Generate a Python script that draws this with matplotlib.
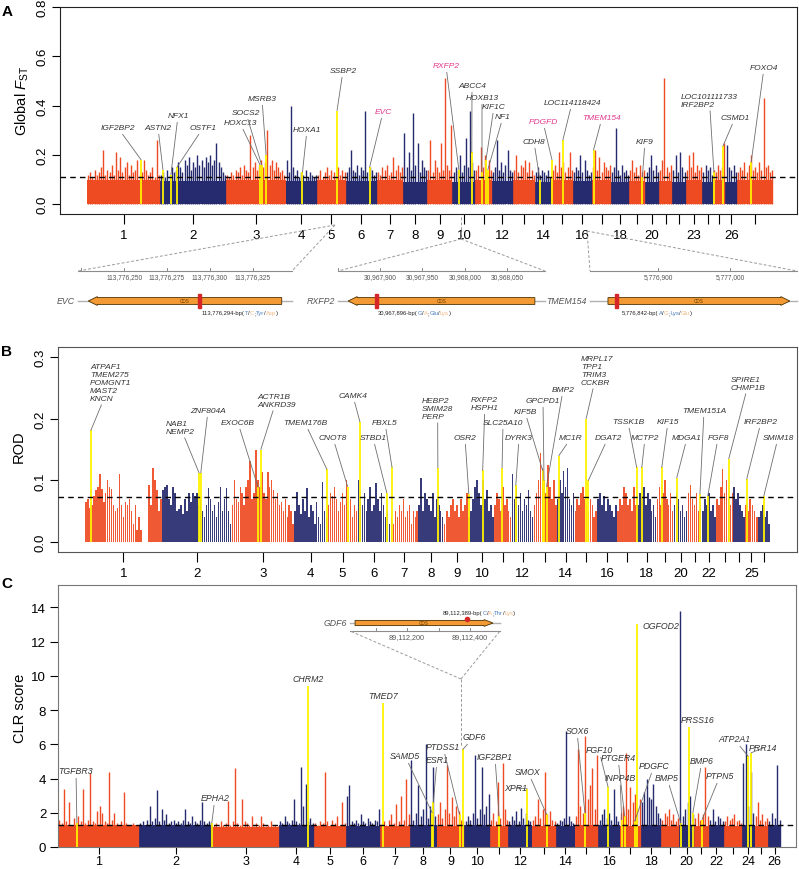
import numpy as np
import matplotlib
matplotlib.use("Agg")
import matplotlib.pyplot as plt
from matplotlib.patches import Polygon, Rectangle

plt.rcParams['font.family'] = ['Liberation Sans', 'DejaVu Sans']
plt.rcParams['mathtext.fontset'] = 'custom'
plt.rcParams['mathtext.rm'] = 'Liberation Sans'
plt.rcParams['mathtext.it'] = 'Liberation Sans:italic'

W, H = 799, 870
ORANGE = '#EE4B23'
NAVY = '#262A6E'
YELLOW = '#FFF200'
LABEL = '#333333'
PINK = '#E0388E'

# ---- chromosomes (Mb) ----
CHROMS = [str(i) for i in range(1, 27)] + ['X']
CHROM_LEN = [275.4, 249.0, 224.3, 119.3, 108.0, 117.0, 100.0, 90.7, 94.7, 86.4,
             62.2, 79.0, 83.0, 62.7, 80.9, 72.0, 72.3, 68.6, 60.5, 51.2,
             50.1, 51.0, 62.2, 42.0, 45.4, 44.0, 135.4]
LABELED_A = [1, 2, 3, 4, 5, 6, 7, 8, 9, 10, 12, 14, 16, 18, 20, 23, 26]
LABELED_B = [1, 2, 3, 4, 5, 6, 7, 8, 9, 10, 12, 14, 16, 18, 20, 22, 25]
LABELED_C = [1, 2, 3, 4, 5, 6, 7, 8, 9, 10, 12, 14, 16, 18, 20, 22, 24, 26]

# ---- panel A: global FST ----
FST_THRESHOLD = 0.112
FST_BASE = [0.10, 0.095, 0.10, 0.095, 0.10, 0.095, 0.10, 0.09, 0.10, 0.09,
            0.10, 0.095, 0.10, 0.09, 0.10, 0.095, 0.10, 0.09, 0.095, 0.09,
            0.095, 0.09, 0.10, 0.09, 0.10, 0.09, 0.10]
FST_SPIKES = [
    [0.12, 0.13, 0.11, 0.14, 0.12, 0.13, 0.15, 0.22, 0.12, 0.14, 0.13, 0.16, 0.12, 0.21, 0.14, 0.19, 0.13,
     0.15, 0.17, 0.12, 0.16, 0.13, 0.14, 0.18, 0.12, 0.13, 0.18, 0.14, 0.12, 0.13, 0.15, 0.11, 0.26, 0.12],
    [0.12, 0.13, 0.11, 0.14, 0.12, 0.15, 0.13, 0.14, 0.17, 0.15, 0.13, 0.18, 0.16, 0.19, 0.14, 0.17,
     0.15, 0.20, 0.16, 0.18, 0.15, 0.19, 0.17, 0.20, 0.16, 0.18, 0.25, 0.17, 0.15, 0.13, 0.12],
    [0.12, 0.11, 0.13, 0.12, 0.14, 0.13, 0.15, 0.12, 0.16, 0.14, 0.13, 0.28, 0.15, 0.17,
     0.14, 0.16, 0.18, 0.15, 0.17, 0.30, 0.16, 0.18, 0.14, 0.17, 0.15, 0.13, 0.14, 0.12],
    [0.18, 0.13, 0.40, 0.15, 0.12, 0.14, 0.11, 0.13, 0.12, 0.14, 0.11, 0.13, 0.12, 0.11, 0.12],
    [0.12, 0.14, 0.11, 0.13, 0.15, 0.12, 0.14, 0.13, 0.11, 0.15, 0.12, 0.14, 0.13],
    [0.13, 0.15, 0.22, 0.14, 0.13, 0.16, 0.12, 0.15, 0.14, 0.38, 0.13, 0.15, 0.14, 0.12, 0.13],
    [0.13, 0.12, 0.15, 0.14, 0.16, 0.12, 0.13, 0.19, 0.14, 0.16, 0.13, 0.15],
    [0.29, 0.15, 0.21, 0.14, 0.37, 0.16, 0.25, 0.13, 0.18, 0.15, 0.14],
    [0.14, 0.26, 0.13, 0.18, 0.15, 0.13, 0.25, 0.14, 0.51, 0.16, 0.14, 0.32],
    [0.13, 0.15, 0.14, 0.20, 0.13, 0.16, 0.27, 0.15, 0.38, 0.17, 0.14],
    [0.14, 0.16, 0.23, 0.15, 0.20, 0.13, 0.18, 0.14],
    [0.13, 0.15, 0.26, 0.14, 0.17, 0.13, 0.16, 0.22, 0.14, 0.13],
    [0.14, 0.20, 0.13, 0.16, 0.15, 0.18, 0.13, 0.17, 0.14, 0.12],
    [0.13, 0.15, 0.12, 0.14, 0.13, 0.12, 0.14, 0.11],
    [0.14, 0.16, 0.13, 0.21, 0.15, 0.17, 0.13, 0.15, 0.21, 0.14],
    [0.13, 0.15, 0.14, 0.20, 0.13, 0.18, 0.14, 0.12, 0.13],
    [0.15, 0.22, 0.14, 0.19, 0.13, 0.17, 0.15, 0.14, 0.16],
    [0.13, 0.15, 0.31, 0.14, 0.12, 0.16, 0.13, 0.14, 0.12],
    [0.14, 0.18, 0.13, 0.15, 0.12, 0.16, 0.13, 0.14],
    [0.13, 0.15, 0.20, 0.14, 0.16, 0.13],
    [0.14, 0.18, 0.51, 0.15, 0.13, 0.16],
    [0.14, 0.20, 0.13, 0.21, 0.15, 0.13],
    [0.14, 0.20, 0.15, 0.21, 0.13, 0.16, 0.14, 0.15],
    [0.13, 0.16, 0.14, 0.15, 0.12],
    [0.14, 0.13, 0.16, 0.14, 0.15, 0.25],
    [0.24, 0.15, 0.14, 0.16, 0.13],
    [0.13, 0.15, 0.14, 0.17, 0.13, 0.16, 0.20, 0.14, 0.15, 0.13, 0.17, 0.14, 0.43, 0.15, 0.16, 0.13, 0.14],
]
# (label, chromosome, position in Mb, value)
FST_GENES = [
    ("IGF2BP2", 1, 204, 0.18), ("ASTN2", 2, 11, 0.14), ("NFX1", 2, 41, 0.12),
    ("OSTF1", 2, 64, 0.15), ("HOXC13", 3, 128, 0.16), ("SOCS2", 3, 134, 0.16),
    ("MSRB3", 3, 151, 0.20), ("HOXA1", 4, 64, 0.13), ("SSBP2", 5, 75, 0.38),
    ("EVC", 6, 90, 0.15), ("RXFP2", 10, 24, 0.14), ("ABCC4", 10, 73, 0.21),
    ("HOXB13", 11, 25, 0.13), ("KIF1C", 11, 40, 0.18), ("NF1", 11, 47, 0.14),
    ("CDH8", 14, 19, 0.10), ("PDGFD", 15, 2, 0.18), ("LOC114118424", 15, 43, 0.26),
    ("TMEM154", 17, 5.8, 0.22), ("KIF9", 19, 49, 0.11),
    ("LOC101111733\nIRF2BP2", 25, 2, 0.13), ("CSMD1", 25, 36, 0.235), ("FOXO4", 27, 53, 0.17),
]
FST_PINK = ["EVC", "RXFP2", "PDGFD", "TMEM154"]

# ---- panel B: ROD ----
ROD_THRESHOLD = 0.0727
ROD_VALUES = [
    [0.065, 0.07, 0.055, 0.06, 0.075, 0.085, 0.09, 0.11, 0.086, 0.065, 0.08, 0.10, 0.09, 0.086, 0.06,
     0.05, 0.055, 0.11, 0.06, 0.04, 0.065, 0.06, 0.07, 0.05, 0.03, 0.06, 0.02, 0.04, 0.02, 0, 0, 0,
     0.093, 0.06, 0.12, 0.10, 0.085, 0.05, 0.07],
    [0.085, 0.09, 0.093, 0.07, 0.06, 0.09, 0.08, 0.05, 0.054, 0.06, 0.045, 0.07, 0.05, 0.08, 0.065,
     0.08, 0.075, 0.08, 0.06, 0.07, 0.05, 0.04, 0.06, 0.087, 0.07, 0.05, 0.06, 0.04, 0.065, 0.09,
     0.05, 0.07, 0.087, 0.05, 0.03],
    [0.06, 0.10, 0.07, 0.065, 0.09, 0.08, 0.06, 0.09, 0.10, 0.132, 0.07, 0.08, 0.15, 0.10, 0.09, 0.114,
     0.08, 0.07, 0.114, 0.09, 0.10, 0.085, 0.07, 0.08, 0.06, 0.065, 0.05, 0.07, 0.04, 0.06, 0.05, 0.03],
    [0.05, 0.081, 0.06, 0.045, 0.07, 0.05, 0.087, 0.04, 0.06, 0.05, 0.03, 0.065, 0.04, 0.03, 0.097, 0.05, 0.04],
    [0.06, 0.08, 0.075, 0.09, 0.07, 0.05, 0.065, 0.08, 0.06, 0.10, 0.05, 0.07, 0.04, 0.06, 0.05],
    [0.10, 0.07, 0.06, 0.08, 0.05, 0.07, 0.09, 0.05, 0.06, 0.095, 0.07, 0.05, 0.08, 0.06, 0.04, 0.05, 0.03],
    [0.04, 0.03, 0.05, 0.04, 0.06, 0.05, 0.07, 0.04, 0.05, 0.06, 0.03, 0.05, 0.04, 0.05],
    [0.06, 0.104, 0.05, 0.08, 0.07, 0.06, 0.05, 0.08, 0.04, 0.07, 0.06, 0.05, 0.04],
    [0.03, 0.05, 0.04, 0.06, 0.07, 0.05, 0.06, 0.04, 0.07, 0.05, 0.06, 0.08, 0.04],
    [0.05, 0.07, 0.09, 0.10, 0.08, 0.06, 0.10, 0.07, 0.085, 0.05, 0.06, 0.04],
    [0.06, 0.08, 0.07, 0.05, 0.09, 0.06, 0.07, 0.05, 0.04],
    [0.11, 0.07, 0.09, 0.06, 0.08, 0.05, 0.07, 0.06, 0.085, 0.05, 0.04],
    [0.06, 0.08, 0.10, 0.145, 0.12, 0.10, 0.08, 0.125, 0.09, 0.07, 0.10, 0.06],
    [0.07, 0.10, 0.08, 0.115, 0.09, 0.12, 0.07, 0.06, 0.08],
    [0.05, 0.07, 0.06, 0.08, 0.09, 0.07, 0.06, 0.05, 0.07, 0.06, 0.04, 0.05],
    [0.07, 0.08, 0.06, 0.075, 0.05, 0.07, 0.06, 0.05, 0.04, 0.06],
    [0.05, 0.07, 0.06, 0.09, 0.08, 0.06, 0.07, 0.05, 0.09, 0.06],
    [0.06, 0.08, 0.07, 0.09, 0.06, 0.08, 0.07, 0.05, 0.06, 0.04],
    [0.07, 0.09, 0.06, 0.08, 0.10, 0.07, 0.06, 0.08, 0.05],
    [0.06, 0.08, 0.07, 0.05, 0.06, 0.04, 0.05],
    [0.08, 0.092, 0.07, 0.06, 0.08, 0.05, 0.06],
    [0.05, 0.07, 0.06, 0.08, 0.05, 0.06, 0.04],
    [0.07, 0.06, 0.09, 0.118, 0.08, 0.10, 0.07, 0.06, 0.08],
    [0.09, 0.07, 0.08, 0.06, 0.05, 0.04],
    [0.06, 0.05, 0.07, 0.06, 0.05, 0.04],
    [0.04, 0.05, 0.06, 0.04, 0.05, 0.03],
]
ROD_GENES = [
    ("ATPAF1\nTMEM275\nPOMGNT1\nMAST2\nKNCN", 1, 21, 0.181), ("NAB1\nNEMP2", 2, 133, 0.112),
    ("ZNF804A", 2, 139, 0.112), ("EXOC6B", 3, 95, 0.089), ("ACTR1B\nANKRD39", 3, 105, 0.15),
    ("TMEM176B", 4, 117, 0.118), ("CNOT8", 5, 72, 0.09), ("CAMK4", 6, 8, 0.195),
    ("STBD1", 6, 104, 0.08), ("FBXL5", 7, 6, 0.121), ("HEBP2\nSMIM28\nPERP", 8, 70, 0.12),
    ("OSR2", 9, 90, 0.078), ("RXFP2\nHSPH1", 10, 45, 0.116), ("SLC25A10", 11, 28, 0.12),
    ("DYRK3", 12, 15, 0.092), ("KIF5B", 13, 32, 0.116), ("GPCPD1", 13, 37, 0.10),
    ("BMP2", 13, 46, 0.09), ("MC1R", 14, 7, 0.14), ("MRPL17\nTPP1\nTRIM3\nCCKBR", 15, 42, 0.20),
    ("DGAT2", 15, 50, 0.10), ("TSSK1B", 17, 70, 0.121), ("MCTP2", 18, 16, 0.121),
    ("KIF15", 19, 19, 0.121), ("MDGA1", 20, 12, 0.104), ("TMEM151A", 21, 44, 0.078),
    ("FGF8", 22, 22, 0.075), ("SPIRE1\nCHMP1B", 23, 46, 0.135), ("IRF2BP2", 25, 6, 0.102),
    ("SMIM18", 26, 22, 0.075),
]

# ---- panel C: CLR ----
CLR_THRESHOLD = 1.28
CLR_BASE = [1.3, 1.3, 1.15, 1.3, 1.2, 1.25, 1.2, 1.3, 1.2, 1.3, 1.2, 1.3, 1.2,
            1.2, 1.3, 1.3, 1.25, 1.3, 1.2, 1.3, 1.25, 1.3, 1.25, 1.3, 1.2, 1.3]
CLR_SPIKES = [
    [1.6, 1.4, 3.4, 1.5, 2.6, 1.3, 1.7, 1.4, 1.8, 1.5, 3.4, 1.4, 1.6, 4.3, 1.5, 1.4, 2.1, 2.4, 2.0,
     1.5, 1.4, 4.4, 1.6, 2.0, 1.4, 1.3, 1.5, 3.2, 1.4, 1.2, 1.3, 1.4, 1.2, 1.3],
    [1.4, 1.5, 1.3, 1.6, 2.4, 1.5, 1.7, 3.3, 1.5, 2.2, 1.6, 1.9, 1.4, 1.5, 1.6, 1.4, 1.5, 1.4, 1.6,
     2.2, 1.5, 1.4, 1.8, 1.5, 1.4, 1.6, 2.6, 1.5, 1.4, 1.5, 1.4],
    [1.3, 1.4, 1.2, 1.5, 1.3, 1.4, 2.7, 1.3, 1.5, 4.6, 1.4, 1.3, 2.8, 1.5, 1.4, 1.3, 1.8, 1.2, 1.4,
     1.3, 1.8, 1.4, 1.2, 1.3, 1.5, 1.2, 1.3, 1.2],
    [1.5, 1.4, 1.8, 1.5, 1.4, 1.6, 2.8, 1.5, 1.4, 4.7, 2.4, 3.7, 1.5, 1.7, 1.4],
    [1.4, 1.3, 1.5, 1.4, 4.4, 1.5, 1.3, 1.6, 1.4, 1.8, 1.3, 2.6, 1.4],
    [3.0, 3.6, 1.5, 1.4, 1.6, 1.4, 1.9, 1.5, 1.4, 1.7, 1.5, 1.4, 1.6, 1.5, 2.2],
    [1.4, 1.5, 1.3, 1.6, 1.9, 1.4, 2.5, 1.5, 3.0, 1.6, 4.0, 1.9],
    [5.1, 1.6, 2.0, 3.6, 1.8, 2.2, 6.0, 1.7, 2.4, 4.7, 1.8],
    [1.9, 2.6, 1.7, 2.2, 4.8, 2.0, 2.9, 1.8, 2.4, 2.1, 1.6, 1.5],
    [1.5, 1.8, 1.6, 2.0, 5.4, 1.7, 2.2, 4.7, 1.9, 2.4, 3.1],
    [1.6, 2.0, 1.5, 3.8, 1.7, 4.9, 2.2, 1.6],
    [1.5, 1.8, 1.6, 2.1, 1.5, 2.3, 1.7, 2.0, 1.6, 1.5],
    [1.6, 1.8, 2.8, 1.7, 2.2, 4.4, 1.9, 2.1, 1.6, 1.5],
    [1.4, 1.6, 1.5, 1.7, 6.8, 1.8, 1.5, 1.4],
    [1.8, 5.7, 2.4, 2.0, 6.5, 2.8, 3.6, 4.6, 2.2, 5.4],
    [1.6, 1.9, 2.2, 1.7, 2.0, 1.6, 3.4, 1.8, 1.5],
    [2.0, 2.4, 5.5, 2.2, 3.5, 2.6, 3.1, 2.3, 2.8],
    [2.6, 3.2, 4.0, 2.9, 2.8, 3.7, 2.4, 2.0, 1.7],
    [1.6, 2.0, 1.8, 2.2, 1.6, 1.9, 1.5, 1.7],
    [13.8, 1.8, 2.2, 2.6, 3.0, 1.9],
    [1.7, 2.0, 1.6, 1.9, 4.7, 1.8],
    [1.6, 2.2, 1.5, 1.8, 1.7, 1.5],
    [1.5, 1.8, 1.6, 1.7, 1.9, 1.5, 1.6, 1.4],
    [4.9, 6.0, 2.4, 4.4, 2.0],
    [1.8, 2.6, 1.6, 1.9, 1.5, 1.7],
    [1.5, 2.0, 1.7, 4.8, 1.6],
]
CLR_GENES = [
    ("TGFBR3", 1, 64, 1.4), ("EPHA2", 2, 246, 1.4), ("CHRM2", 4, 99, 9.4),
    ("TMED7", 7, 9, 8.4), ("SAMD5", 8, 76, 2.0), ("ESR1", 8, 80, 2.6),
    ("PTDSS1", 9, 78, 1.9), ("GDF6", 9, 89.1, 5.7), ("IGF2BP1", 11, 31, 1.8),
    ("XPR1", 12, 64, 3.4), ("SMOX", 13, 51, 1.9), ("SOX6", 15, 35, 2.0),
    ("FGF10", 16, 33, 3.5), ("PTGER4", 17, 17, 1.8), ("INPP4B", 17, 7, 1.6),
    ("PDGFC", 17, 51, 1.5), ("OGFOD2", 17, 58, 13.0), ("BMP5", 20, 6, 1.4),
    ("PRSS16", 20, 34, 7.0), ("BMP6", 20, 47, 2.0), ("PTPN5", 21, 27, 1.6),
    ("ATP2A1", 24, 20, 5.3), ("PRR14", 24, 30, 5.5),
]
CLR_NO_LEADER = ["CHRM2", "TMED7", "OGFOD2", "PRSS16"]

# ---- gene models (bp) ----
MODEL_NAMES = ["EVC", "RXFP2", "TMEM154", "GDF6"]
MODEL_AXIS_BP = [(113776223, 113776348), (30967850, 30968095), (5776805, 5777093), (89112019, 89112495)]
MODEL_TICKS = [[113776225, 113776250, 113776275, 113776300, 113776325],
               [30967850, 30967900, 30967950, 30968000, 30968050],
               [5776900, 5777000],
               [89112100, 89112200, 89112300, 89112400]]
MODEL_TICK_LABELED = [[113776250, 113776275, 113776300, 113776325],
                      [30967900, 30967950, 30968000, 30968050],
                      [5776900, 5777000],
                      [89112200, 89112400]]
MODEL_CDS = [(113776229, 113776342), (30967862, 30968083), (5776830, 5777083), (89112035, 89112473)]
MODEL_STRAND = [-1, -1, 1, 1]
MODEL_SNP = [113776294, 30967896, 5776842, 89112389]
MODEL_ALLELES = [("T", "C", "Tyr", "Asp"), ("G", "A", "Glu", "Lys"),
                 ("A", "G", "Lys", "Glu"), ("C", "A", "Thr", "Lys")]

# ---- layout (figure pixels, origin top-left) ----
FST_LABEL_POS = {
    "IGF2BP2": (118, 129), "ASTN2": (158, 129), "NFX1": (178, 117), "OSTF1": (203, 129),
    "HOXC13": (240, 124), "SOCS2": (246, 114), "MSRB3": (262, 100), "HOXA1": (307, 131),
    "SSBP2": (343, 72), "EVC": (383, 113), "RXFP2": (446, 67), "ABCC4": (472, 87),
    "HOXB13": (482, 99), "KIF1C": (494, 108), "NF1": (503, 118), "CDH8": (534, 143),
    "PDGFD": (543, 123), "LOC114118424": (572, 104), "TMEM154": (602, 119), "KIF9": (645, 143),
    "LOC101111733": (681, 101.5, 'left'), "CSMD1": (735, 119), "FOXO4": (764, 69),
}
ROD_LABEL_POS = {
    "ATPAF1": (90, 383.5, 'left'), "NAB1": (166, 428.5, 'left'), "ZNF804A": (208, 412),
    "EXOC6B": (238, 424), "ACTR1B": (257, 401.5, 'left'), "TMEM176B": (305, 424),
    "CNOT8": (333, 439), "CAMK4": (353, 397), "STBD1": (373, 439), "FBXL5": (385, 424),
    "HEBP2": (422, 409.5, 'left'), "OSR2": (465, 439), "RXFP2": (471, 405, 'left'),
    "SLC25A10": (503, 424), "DYRK3": (519, 439), "KIF5B": (525, 413), "GPCPD1": (543, 402),
    "BMP2": (563, 391), "MC1R": (571, 439), "MRPL17": (581, 371.5, 'left'), "DGAT2": (608, 439),
    "TSSK1B": (628, 423), "MCTP2": (645, 439), "KIF15": (668, 423), "MDGA1": (687, 439),
    "TMEM151A": (704, 412), "FGF8": (718, 439), "SPIRE1": (731, 384.5, 'left'),
    "IRF2BP2": (761, 423), "SMIM18": (778, 439),
}
CLR_LABEL_POS = {
    "TGFBR3": (76, 772), "EPHA2": (215, 799), "CHRM2": (308, 680), "TMED7": (383, 697),
    "SAMD5": (405, 757), "ESR1": (437, 761), "PTDSS1": (443, 748), "GDF6": (474, 738),
    "IGF2BP1": (495, 758), "XPR1": (516, 789), "SMOX": (528, 773), "SOX6": (577, 732),
    "FGF10": (599, 751), "PTGER4": (618, 759), "INPP4B": (620, 779), "PDGFC": (654, 767),
    "OGFOD2": (643, 627, 'left'), "BMP5": (667, 779), "PRSS16": (698, 721), "BMP6": (702, 762),
    "PTPN5": (720, 777), "ATP2A1": (734, 740), "PRR14": (763, 749),
}
MODEL_LAYOUT = [
    dict(axis_px=(78, 292), axis_y=272, gene_y=302, bh=3.4, hh=4.4, text_xy=(202, 314),
         apex=(335, 226), stem_top=None, tick_fs=4.8, snp='bar'),
    dict(axis_px=(338, 545), axis_y=272, gene_y=302, bh=3.4, hh=4.4, text_xy=(378, 314),
         apex=(461, 240), stem_top=218, tick_fs=4.8, snp='bar'),
    dict(axis_px=(590, 797), axis_y=272, gene_y=302, bh=3.4, hh=4.4, text_xy=(622, 314),
         apex=(587, 232), stem_top=None, tick_fs=4.8, snp='bar'),
    dict(axis_px=(350, 500), axis_y=632, gene_y=624, bh=2.6, hh=3.4, text_xy=(443, 614),
         apex=(461, 680), stem_bottom=748, tick_fs=5.2, snp='dot'),
]


def chrom_starts(lengths):
    return np.concatenate([[0.0], np.cumsum(lengths)[:-1]])


def draw_track(ax, lengths, values, base=None, genes=(), bars=False):
    starts = chrom_starts(lengths)
    for i, (s, L, vals) in enumerate(zip(starts, lengths, values)):
        col = ORANGE if i % 2 == 0 else NAVY
        step = L / len(vals)
        pos = s + (np.arange(len(vals)) + 0.5) * step
        if bars:
            ax.bar(pos, vals, width=step * 0.8, color=col, lw=0, alpha=0.92)
        else:
            ax.vlines(pos, 0, vals, color=col, lw=1.0)
        if base is not None:
            ax.bar(s, base[i], width=L, align='edge', color=col, lw=0)
    for name, c, p, v in genes:
        ax.vlines(starts[c - 1] + p, 0, v, color=YELLOW, lw=1.3, zorder=3)


def label_genes(ax, lengths, genes, layout, size=6, pink=(), no_leader=()):
    starts = chrom_starts(lengths)
    for text, c, p, v in genes:
        key = text.split('\n')[0]
        lay = layout[key]
        ha = lay[2] if len(lay) > 2 else 'center'
        arrow = None if key in no_leader else dict(arrowstyle='-', color='#6e6e6e', lw=0.6,
                                                    shrinkA=0, shrinkB=0)
        ax.annotate(text, xy=(starts[c - 1] + p, v), xycoords='data',
                    xytext=(lay[0], H - lay[1]), textcoords='figure pixels',
                    ha=ha, va='center', fontsize=size, style='italic',
                    color=PINK if key in pink else LABEL, arrowprops=arrow,
                    annotation_clip=False, zorder=6, linespacing=1.2)


def style_axis(ax, lengths, labeled, xlim, ylim, yticks, ylabels, rotate, frame, xpad=4, xsize=9.5):
    starts = chrom_starts(lengths)
    centers = starts + np.array(lengths) / 2
    ax.set_xticks(centers)
    ax.set_xticklabels([CHROMS[i] if (i + 1) in labeled else '' for i in range(len(lengths))])
    ax.set_xlim(*xlim)
    ax.set_ylim(*ylim)
    ax.set_yticks(yticks)
    if rotate:
        ax.set_yticklabels(ylabels, rotation=90, va='center')
    else:
        ax.set_yticklabels(ylabels)
    ax.tick_params(axis='x', length=7 if xpad > 2 else 5, width=0.8, labelsize=xsize, pad=xpad)
    ax.tick_params(axis='y', length=6, width=0.8, labelsize=9.5, pad=2.5)
    for sp in ax.spines.values():
        sp.set_color(frame)
        sp.set_linewidth(0.8)


def color_text(ov, x, y, pieces, size):
    t = ov.text(x, y, pieces[0][0], color=pieces[0][1], fontsize=size, ha='left', va='center')
    for s, c in pieces[1:]:
        t = ov.annotate(s, xy=(1, 0.5), xycoords=t, ha='left', va='center', color=c, fontsize=size)


def draw_model(ov, i):
    lay = MODEL_LAYOUT[i]
    a0, a1 = MODEL_AXIS_BP[i]
    x0, x1 = lay['axis_px']

    def px(bp):
        return x0 + (bp - a0) / (a1 - a0) * (x1 - x0)

    ay, gy = lay['axis_y'], lay['gene_y']
    grey = '#8c8c8c'
    ov.plot([x0, x1], [ay, ay], color=grey, lw=0.8)
    for t in MODEL_TICKS[i]:
        ov.plot([px(t)] * 2, [ay - 3, ay], color=grey, lw=0.7)
        if t in MODEL_TICK_LABELED[i]:
            ov.text(px(t), ay + 2.5, f'{t:,}', ha='center', va='top', fontsize=lay['tick_fs'], color='#555555')
    ov.plot([x0, x1], [gy, gy], color='#b0b0b0', lw=1.0, zorder=1)
    c0, c1 = px(MODEL_CDS[i][0]), px(MODEL_CDS[i][1])
    hl, bh, hh = 9, lay['bh'], lay['hh']
    if MODEL_STRAND[i] < 0:
        pts = [(c0, gy), (c0 + hl, gy - hh), (c0 + hl, gy - bh), (c1, gy - bh),
               (c1, gy + bh), (c0 + hl, gy + bh), (c0 + hl, gy + hh)]
    else:
        pts = [(c1, gy), (c1 - hl, gy - hh), (c1 - hl, gy - bh), (c0, gy - bh),
               (c0, gy + bh), (c1 - hl, gy + bh), (c1 - hl, gy + hh)]
    ov.add_patch(Polygon(pts, closed=True, fc='#F39A34', ec='#4a3000', lw=0.6, zorder=2))
    ov.text((c0 + c1) / 2, gy, 'CDS', fontsize=3.4, color='#6b3d00', ha='center', va='center', zorder=3)
    sx = px(MODEL_SNP[i])
    if lay['snp'] == 'bar':
        ov.add_patch(Rectangle((sx - 1.5, gy - 7), 3, 14, color='#D62728', zorder=4))
    else:
        ov.plot([sx], [gy - 4.5], 'o', color='#D62728', ms=3, zorder=4)
    ov.text(x0 - 3, gy, MODEL_NAMES[i], ha='right', va='center', fontsize=6.3,
            style='italic', color='#555555')
    ref, alt, aa1, aa2 = MODEL_ALLELES[i]
    blue, light, dark = '#4A7FC1', '#F2B880', '#222222'
    pieces = [(f'{MODEL_SNP[i]:,}-bp(', dark), (ref, blue), ('/', dark), (alt, light), (';', dark),
              (aa1, blue), ('/', dark), (aa2, light), (')', dark)]
    color_text(ov, lay['text_xy'][0], lay['text_xy'][1], pieces, 4.2)
    # dashed zoom lines
    dash = dict(color='#9a9a9a', lw=0.7, ls=(0, (3, 2)))
    axx, apy = lay['apex']
    ov.plot([axx, x0], [apy, ay], **dash)
    ov.plot([axx, x1], [apy, ay], **dash)
    if lay.get('stem_top') is not None:
        ov.plot([axx, axx], [lay['stem_top'], apy], **dash)
    if lay.get('stem_bottom') is not None:
        ov.plot([axx, axx], [apy, lay['stem_bottom']], **dash)


def add_panel(fig, l, t, r, b):
    return fig.add_axes([l / W, 1 - b / H, (r - l) / W, (b - t) / H])


fig = plt.figure(figsize=(W / 100, H / 100), dpi=100)
axA = add_panel(fig, 60, 8, 797, 215)
axB = add_panel(fig, 58, 348, 797, 553)
axC = add_panel(fig, 58, 586, 796, 848)

# panel A
draw_track(axA, CHROM_LEN, FST_SPIKES, base=FST_BASE, genes=FST_GENES)
axA.axhline(FST_THRESHOLD, color='k', lw=1.0, ls=(0, (4, 3)), zorder=5)
style_axis(axA, CHROM_LEN, LABELED_A, (-101.8, 2677.8), (-0.04, 0.8),
           [0, 0.2, 0.4, 0.6, 0.8], ['0.0', '0.2', '0.4', '0.6', '0.8'], True, '#222222')
label_genes(axA, CHROM_LEN, FST_GENES, FST_LABEL_POS, pink=FST_PINK)

# panel B
auto = CHROM_LEN[:26]
draw_track(axB, auto, ROD_VALUES, genes=ROD_GENES, bars=True)
axB.axhline(ROD_THRESHOLD, color='k', lw=1.0, ls=(0, (4, 3)), zorder=5)
style_axis(axB, auto, LABELED_B, (-96.6, 2548.5), (-0.016, 0.316),
           [0, 0.1, 0.2, 0.3], ['0.0', '0.1', '0.2', '0.3'], True, '#555555')
label_genes(axB, auto, ROD_GENES, ROD_LABEL_POS)

# panel C
draw_track(axC, auto, CLR_SPIKES, base=CLR_BASE, genes=CLR_GENES)
axC.axhline(CLR_THRESHOLD, color='k', lw=1.0, ls=(0, (4, 3)), zorder=5)
style_axis(axC, auto, LABELED_C, (0, 2502.8), (0, 15.3),
           list(range(0, 15, 2)), [str(v) for v in range(0, 15, 2)], False, '#777777',
           xpad=0.8, xsize=9)
label_genes(axC, auto, CLR_GENES, CLR_LABEL_POS, size=6.3, no_leader=CLR_NO_LEADER)

# y labels and panel letters
fig.text(22 / W, 1 - 101 / H, r'Global $\mathit{F}_{\mathrm{ST}}$', rotation=90,
         ha='center', va='center', fontsize=10.5)
fig.text(19 / W, 1 - 447 / H, 'ROD', rotation=90, ha='center', va='center', fontsize=10.5)
fig.text(20 / W, 1 - 708 / H, 'CLR score', rotation=90, ha='center', va='center', fontsize=10.5)
for letter, (x, y) in zip('ABC', [(7, 12), (7, 352), (7, 584)]):
    fig.text(x / W, 1 - y / H, letter, ha='center', va='center', fontsize=11, fontweight='bold')

# overlay for gene models
ov = fig.add_axes([0, 0, 1, 1], zorder=10)
ov.set_xlim(0, W)
ov.set_ylim(H, 0)
ov.axis('off')
for i in range(len(MODEL_NAMES)):
    draw_model(ov, i)

fig.savefig('out.png', dpi=100)
